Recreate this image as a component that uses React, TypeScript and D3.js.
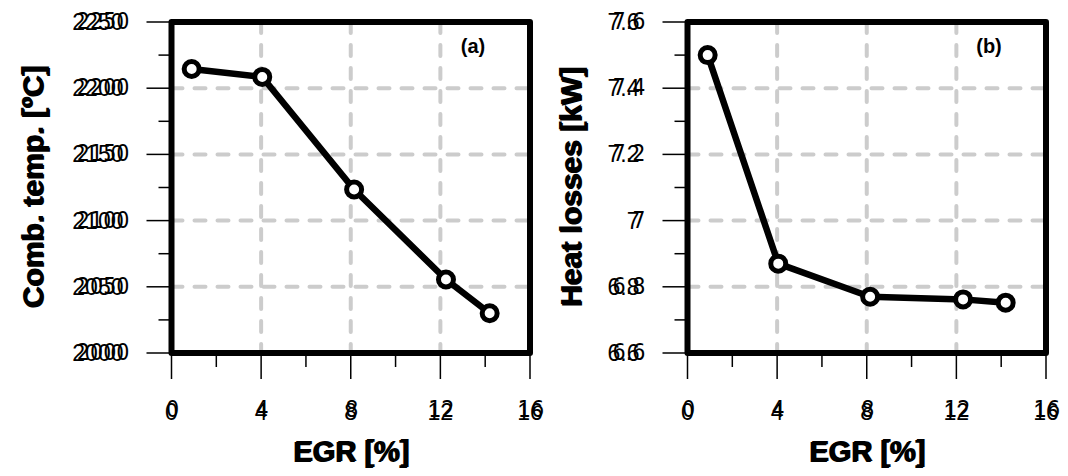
import React from 'react';
import * as d3 from 'd3';

// EGR rate [%] for each operating point
const egrA = [0.9, 4.05, 8.15, 12.25, 14.2];
const combTemp = [2214.5, 2208.5, 2123.5, 2055.5, 2030];
const egrB = [0.9, 4.05, 8.15, 12.3, 14.2];
const heatLoss = [7.5, 6.87, 6.77, 6.762, 6.752];

const xTicks = [0, 4, 8, 12, 16];
const xMinor = [2, 6, 10, 14];
const tempTicks = [2000, 2050, 2100, 2150, 2200, 2250];
const tempMinor = [2025, 2075, 2125, 2175, 2225];
const heatTicks = [6.6, 6.8, 7, 7.2, 7.4, 7.6];
const heatMinor = [6.7, 6.9, 7.1, 7.3, 7.5];

const TOP = 22;
const BOTTOM = 353;
const MAIN_FONT = "'Liberation Sans', Arial, sans-serif";
const ALT_FONT = "'DejaVu Sans Condensed', 'DejaVu Sans', sans-serif";

type DT = {
  x: number; y: number; text: string; size: number; anchor: string;
  bold?: boolean; dx2?: number; dy2?: number; rotate?: boolean; altFont?: string; altScale?: number;
};

// Overprinted label: two copies of the same string, the second slightly shifted
function DoubleText({ x, y, text, size, anchor, bold, dx2 = 6, dy2 = 0, rotate, altFont = ALT_FONT, altScale = 1 }: DT) {
  const weight = bold ? 700 : 400;
  const tf = rotate ? `rotate(-90 ${x} ${y})` : undefined;
  return (
    <g transform={tf}>
      <text x={x + dx2} y={y + dy2} fontFamily={altFont} fontSize={size * altScale}
        fontWeight={weight} textAnchor={anchor} fill="#000">{text}</text>
      <text x={x} y={y} fontFamily={MAIN_FONT} fontSize={size}
        fontWeight={weight} textAnchor={anchor} fill="#000">{text}</text>
    </g>
  );
}

type PanelProps = {
  left: number; right: number; yDomain: [number, number];
  yTicks: number[]; yMinor: number[]; xs: number[]; ys: number[];
  yTitle: string; yTitleX: number; tag: string;
};

function Panel({ left, right, yDomain, yTicks, yMinor, xs, ys, yTitle, yTitleX, tag }: PanelProps) {
  const x = d3.scaleLinear().domain([0, 16]).range([left, right]);
  const y = d3.scaleLinear().domain(yDomain).range([BOTTOM, TOP]);
  const pts: [number, number][] = xs.map((v, i) => [x(v), y(ys[i])]);
  const line = d3.line()(pts) || '';
  const grid = '#cccccc';
  const midY = (TOP + BOTTOM) / 2;
  return (
    <g>
      {/* dashed grid */}
      {yTicks.slice(1, -1).map((t) => (
        <line key={'gy' + t} x1={left} x2={right} y1={y(t)} y2={y(t)}
          stroke={grid} strokeWidth={4} strokeDasharray="11 12" strokeLinecap="round" />
      ))}
      {xTicks.slice(1, -1).map((t) => (
        <line key={'gx' + t} x1={x(t)} x2={x(t)} y1={TOP} y2={BOTTOM}
          stroke={grid} strokeWidth={4} strokeDasharray="11 12" strokeLinecap="round" />
      ))}
      {/* ticks */}
      {yTicks.map((t) => (
        <line key={'ty' + t} x1={left - 25} x2={left} y1={y(t)} y2={y(t)} stroke="#000" strokeWidth={1.5} />
      ))}
      {yMinor.map((t) => (
        <line key={'my' + t} x1={left - 13} x2={left} y1={y(t)} y2={y(t)} stroke="#000" strokeWidth={1.5} />
      ))}
      {xTicks.map((t) => (
        <line key={'tx' + t} x1={x(t)} x2={x(t)} y1={BOTTOM} y2={BOTTOM + 26} stroke="#000" strokeWidth={1.5} />
      ))}
      {xMinor.map((t) => (
        <line key={'mx' + t} x1={x(t)} x2={x(t)} y1={BOTTOM} y2={BOTTOM + 14} stroke="#000" strokeWidth={1.5} />
      ))}
      {/* frame */}
      <rect x={left} y={TOP} width={right - left} height={BOTTOM - TOP}
        fill="none" stroke="#000" strokeWidth={6} strokeLinejoin="round" />
      {/* series */}
      <path d={line} fill="none" stroke="#000" strokeWidth={6.5} strokeLinejoin="round" />
      {pts.map(([px, py], i) => (
        <circle key={i} cx={px} cy={py} r={7.5} fill="#fff" stroke="#000" strokeWidth={5} />
      ))}
      {/* tick labels */}
      {yTicks.map((t) => (
        <DoubleText key={'ly' + t} x={left - 48} y={y(t) + 8} text={String(t)} size={23}
          anchor="end" dx2={6} dy2={-1} />
      ))}
      {xTicks.map((t) => (
        <DoubleText key={'lx' + t} x={x(t)} y={420} text={String(t)} size={23}
          anchor="middle" dx2={1} dy2={-3} />
      ))}
      {/* axis titles */}
      <DoubleText x={(left + right) / 2} y={462} text="EGR [%]" size={29} anchor="middle"
        bold dx2={1.5} dy2={-1} altFont={MAIN_FONT} />
      <DoubleText x={yTitleX} y={midY} text={yTitle} size={30} anchor="middle"
        bold rotate dx2={1.5} dy2={-1} altFont={MAIN_FONT} />
      {/* panel tag */}
      <text x={right - 57} y={53} fontFamily={MAIN_FONT} fontSize={20} fontWeight={700}
        textAnchor="middle">{tag}</text>
    </g>
  );
}

export default function App() {
  return (
    <svg width={1068} height={476} style={{ position: 'absolute', left: 0, top: 0, background: '#fff' }}>
      <rect width={1068} height={476} fill="#fff" />
      <Panel left={171.5} right={530} yDomain={[2000, 2250]} yTicks={tempTicks} yMinor={tempMinor}
        xs={egrA} ys={combTemp} yTitle="Comb. temp. [ºC]" yTitleX={44} tag="(a)" />
      <Panel left={687.5} right={1046} yDomain={[6.6, 7.6]} yTicks={heatTicks} yMinor={heatMinor}
        xs={egrB} ys={heatLoss} yTitle="Heat losses [kW]" yTitleX={582} tag="(b)" />
    </svg>
  );
}
